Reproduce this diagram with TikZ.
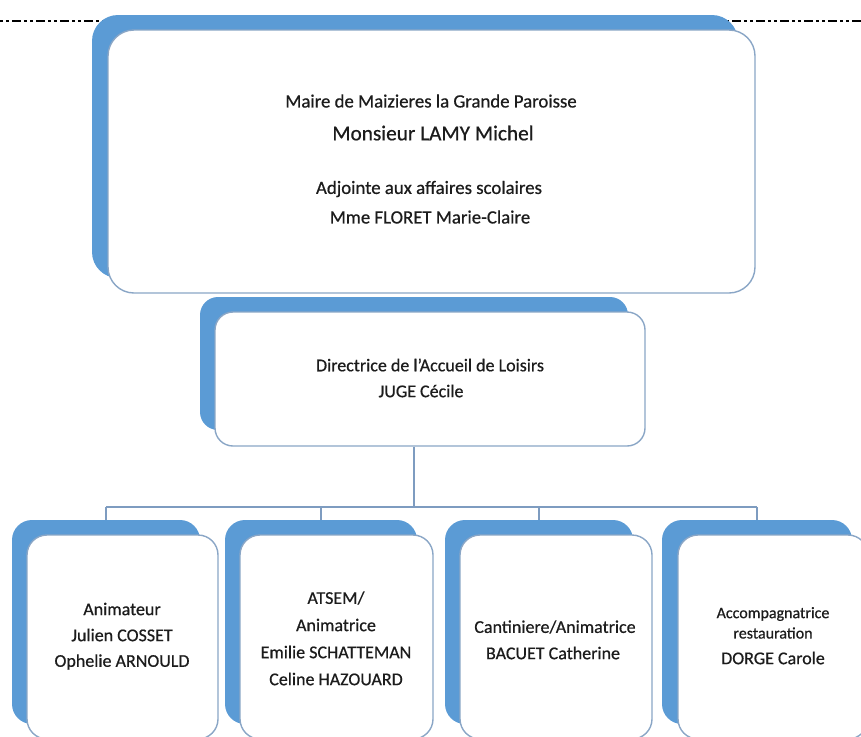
\documentclass[tikz,border=0pt]{standalone}
\usepackage{fontspec}
\setmainfont{Carlito}[FakeBold=0.6]
\definecolor{bback}{HTML}{5B9BD5}
\definecolor{bline}{HTML}{8AA6C6}
\definecolor{cline}{HTML}{7E9CC0}
\definecolor{txt}{HTML}{1C1C1C}
\begin{document}
\begin{tikzpicture}[x=1pt,y=-1pt,
 backbox/.style={fill=bback, draw=none, rounded corners=#1, inner sep=0pt},
 backbox/.default=20pt,
 frontbox/.style={fill=white, draw=bline, line width=1.4pt, rounded corners=#1, inner sep=0pt},
 frontbox/.default=20pt,
 lbltop/.style={font=\fontsize{18.8}{22}\selectfont, text=txt, inner sep=0pt, anchor=center},
 lbl/.style={font=\fontsize{18}{22}\selectfont, text=txt, inner sep=0pt, anchor=center},
 lblbig/.style={font=\fontsize{21.3}{25}\selectfont, text=txt, inner sep=0pt, anchor=center},
 lblsmall/.style={font=\fontsize{16}{19}\selectfont, text=txt, inner sep=0pt, anchor=center},
 conn/.style={draw=cline, line width=1.6pt},
 sep/.style={draw=black, line width=2.4pt, dash pattern=on 3pt off 3pt on 3pt off 3pt on 9pt off 3pt}
]
\useasboundingbox (0,0) rectangle (861,736);
\clip (0,0) rectangle (861,736);

% dashed separator behind the top box
\draw[sep] (0,21) -- (861,21);

% top box
\node[backbox=26pt, minimum width=646pt, minimum height=263pt] (tb) at (415,146.5) {};
\node[frontbox=26pt, minimum width=647pt, minimum height=263pt] (tw) at (431.5,161.5) {};
\node[lbltop] (t1) at (431,101) {Maire de Maizieres la Grande Paroisse};
\node[lblbig] (t2) at (433,133) {Monsieur LAMY Michel};
\node[lbltop] (t3) at (429,189) {Adjointe aux affaires scolaires};
\node[lbltop] (t4) at (430,217) {Mme FLORET Marie-Claire};

% middle box
\node[backbox=18pt, minimum width=428pt, minimum height=133pt] (mb) at (414,363.5) {};
\node[frontbox=18pt, minimum width=430pt, minimum height=134pt] (mw) at (430,379) {};
\node[lbl] (m1) at (430,365) {Directrice de l'Accueil de Loisirs};
\node[lbl] (m2) at (421,391) {JUGE Cécile};

% children
\node[backbox, minimum width=188pt, minimum height=204pt] (c1b) at (106,622) {};
\node[frontbox, minimum width=191pt, minimum height=204pt] (c1w) at (122.5,637) {};
\node[backbox, minimum width=192pt, minimum height=204pt] (c2b) at (321,622) {};
\node[frontbox, minimum width=193pt, minimum height=204pt] (c2w) at (336.5,637) {};
\node[backbox, minimum width=188pt, minimum height=204pt] (c3b) at (539,622) {};
\node[frontbox, minimum width=192pt, minimum height=204pt] (c3w) at (556,637) {};
\node[backbox, minimum width=190pt, minimum height=204pt] (c4b) at (757,622) {};
\node[frontbox, minimum width=190pt, minimum height=204pt] (c4w) at (773,637) {};

\node[lbl] (a1) at (122,609) {Animateur};
\node[lbl] (a2) at (122,635) {Julien COSSET};
\node[lbl] (a3) at (122,662) {Ophelie ARNOULD};

\node[lbl] (b1) at (336,598) {ATSEM/};
\node[lbl] (b2) at (336,625) {Animatrice};
\node[lbl] (b3) at (336,652) {Emilie SCHATTEMAN};
\node[lbl] (b4) at (336,679) {Celine HAZOUARD};

\node[lbl] (d1) at (555,627) {Cantiniere/Animatrice};
\node[lbl] (d2) at (553,653) {BACUET Catherine};

\node[lblsmall] (e1) at (773,614) {Accompagnatrice};
\node[lblsmall] (e2) at (773,633) {restauration};
\node[lbl] (e3) at (773,658) {DORGE Carole};

% connectors
\coordinate (bus) at (414,507);
\draw[conn] (mw.south -| mb.center) -- (bus);
\draw[conn] (c1b.north |- bus) -- (c4b.north |- bus);
\draw[conn] (c1b.north |- bus) -- (c1b.north);
\draw[conn] (c2b.north |- bus) -- (c2b.north);
\draw[conn] (c3b.north |- bus) -- (c3b.north);
\draw[conn] (c4b.north |- bus) -- (c4b.north);
\end{tikzpicture}
\end{document}
